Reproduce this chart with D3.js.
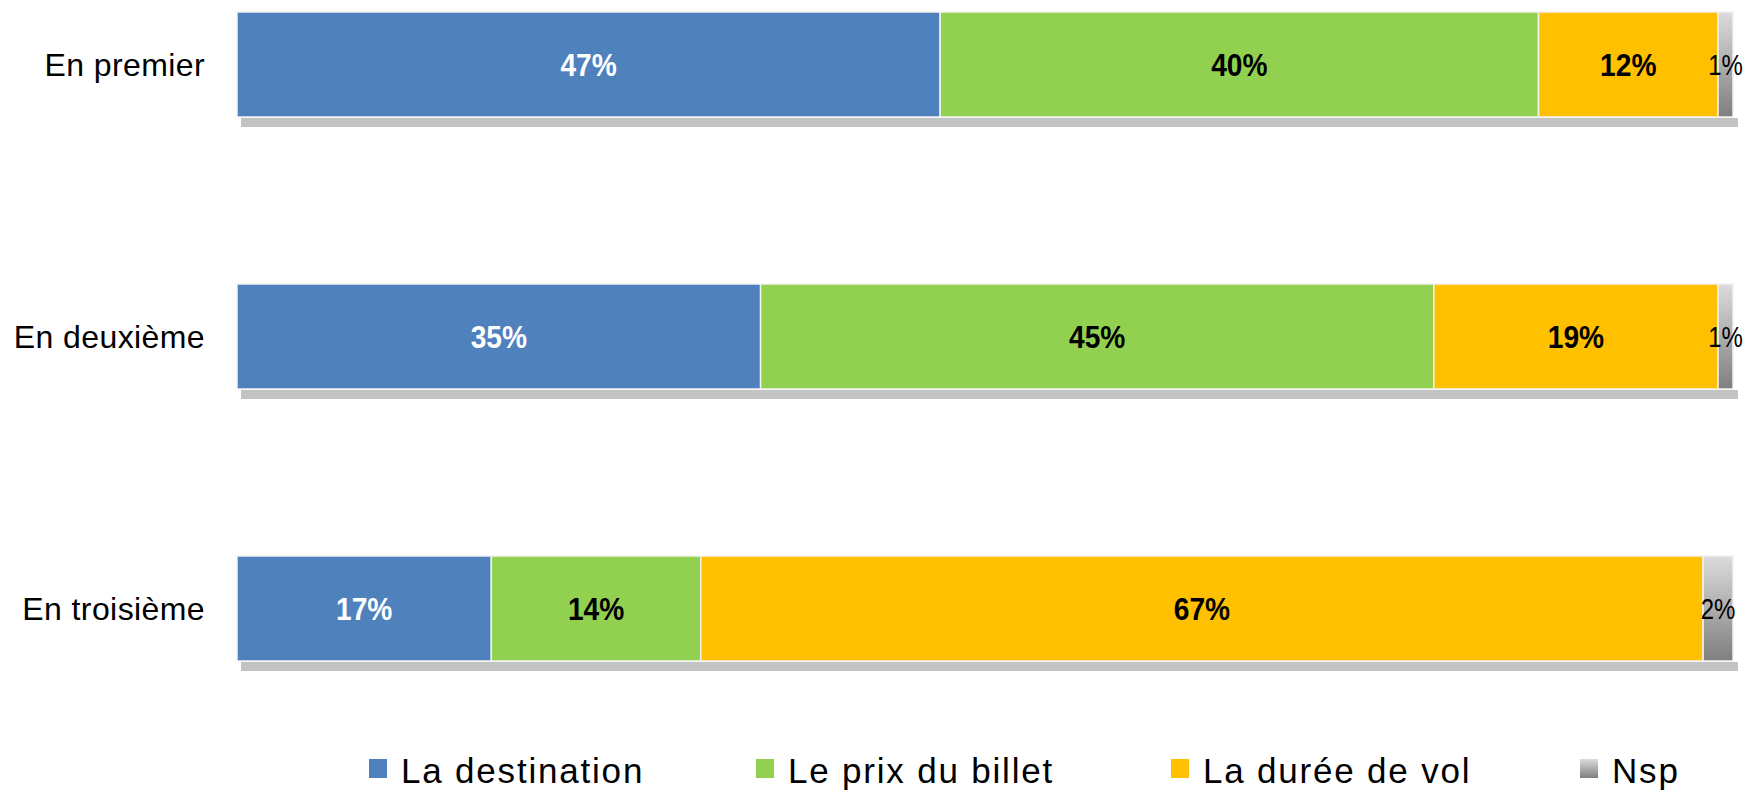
<!DOCTYPE html>
<html>
<head>
<meta charset="utf-8">
<script src="https://cdn.jsdelivr.net/npm/d3@7"></script>
<style>
  body { margin: 0; background: #fff; }
  svg { display: block; }
</style>
</head>
<body>
<div class="vis"></div>
<script>
// data
const categories = ["En premier", "En deuxième", "En troisième"];
const seriesNames = ["La destination", "Le prix du billet", "La durée de vol", "Nsp"];
const destination = [47, 35, 17];
const prix = [40, 45, 14];
const duree = [12, 19, 67];
const nsp = [1, 1, 2];
const colors = ["#4f81bd", "#92d050", "#ffc000", "url(#nspGrad)"];
const labelColors = ["#fff", "#000", "#000", "#000"];

const width = 1751, height = 801;

const svg = d3.select(".vis")
  .append("svg")
  .attr("width", width)
  .attr("height", height);

// gradient for Nsp
const defs = svg.append("defs");
const grad = defs.append("linearGradient")
  .attr("id", "nspGrad")
  .attr("x1", 0).attr("y1", 0).attr("x2", 0).attr("y2", 1);
grad.append("stop").attr("offset", "0%").attr("stop-color", "#dcdcdc");
grad.append("stop").attr("offset", "100%").attr("stop-color", "#7f7f7f");

const rows = categories.map((c, i) => ({
  cat: c,
  vals: [destination[i], prix[i], duree[i], nsp[i]]
}));

const x = d3.scaleLinear()
  .domain([0, 100])
  .range([237, 1733]);

const y = d3.scaleBand()
  .domain(categories)
  .range([12, 661])
  .paddingInner(0.614)
  .paddingOuter(0);

// category labels
svg.append("g")
  .selectAll("text")
  .data(categories)
  .enter()
  .append("text")
  .attr("x", 205)
  .attr("y", d => y(d) + y.bandwidth() / 2)
  .attr("dy", "0.36em")
  .attr("text-anchor", "end")
  .style("font-family", "'Liberation Sans', Arial, sans-serif")
  .style("font-size", "32px")
  .style("letter-spacing", "0.4px")
  .style("fill", "#000")
  .text(d => d);

// shadow under each bar
svg.append("g")
  .selectAll("rect")
  .data(rows)
  .enter()
  .append("rect")
  .attr("x", x(0) + 4)
  .attr("y", d => y(d.cat) + y.bandwidth() + 1)
  .attr("width", x(100) - x(0) + 1)
  .attr("height", 9)
  .attr("fill", "#c3c3c3");

// segments
rows.forEach(row => {
  let acc = 0;
  const segs = row.vals.map((v, k) => {
    const s = { k: k, v: v, x0: acc, x1: acc + v };
    acc += v;
    return s;
  });
  const g = svg.append("g");
  g.selectAll("rect")
    .data(segs)
    .enter()
    .append("rect")
    .attr("x", d => x(d.x0))
    .attr("y", y(row.cat))
    .attr("width", d => x(d.x1) - x(d.x0))
    .attr("height", y.bandwidth())
    .attr("fill", d => colors[d.k])
    .attr("stroke", "#f2f2f2")
    .attr("stroke-width", 1.5);

  // labels are squeezed a bit to look like the narrow font of the original
  g.selectAll("text")
    .data(segs)
    .enter()
    .append("text")
    .attr("transform", d => "translate(" + ((x(d.x0) + x(d.x1)) / 2) + "," +
      (y(row.cat) + y.bandwidth() / 2) + ") scale(" + (d.k === 3 ? 0.8 : 0.88) + ",1)")
    .attr("dy", "0.36em")
    .attr("text-anchor", "middle")
    .style("font-family", "'Liberation Sans', Arial, sans-serif")
    .style("font-size", d => d.k === 3 ? "30px" : "32px")
    .style("font-weight", d => d.k === 3 ? "normal" : "bold")
    .style("fill", d => labelColors[d.k])
    .text(d => d.v + "%");
});

// legend
const legendX = [369, 756, 1171, 1580];
const legend = svg.append("g");
seriesNames.forEach((name, i) => {
  legend.append("rect")
    .attr("x", legendX[i])
    .attr("y", 759)
    .attr("width", 18)
    .attr("height", 19)
    .attr("fill", colors[i]);
  legend.append("text")
    .attr("x", legendX[i] + 32)
    .attr("y", 783)
    .style("font-family", "'Liberation Sans', Arial, sans-serif")
    .style("font-size", "35px")
    .style("letter-spacing", "1.8px")
    .style("fill", "#000")
    .text(name);
});
</script>
</body>
</html>
